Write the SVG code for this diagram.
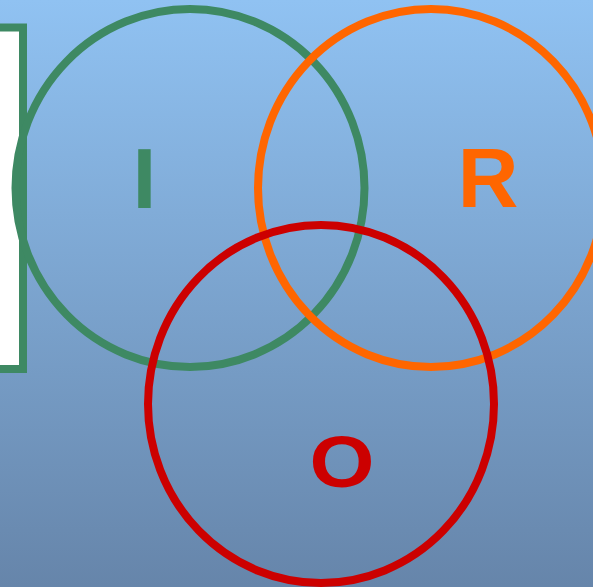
<svg xmlns="http://www.w3.org/2000/svg" width="593" height="587" viewBox="0 0 593 587">
  <defs>
    <linearGradient id="bg" x1="0" y1="0" x2="0" y2="1">
      <stop offset="0" stop-color="#90c2f2"/>
      <stop offset="1" stop-color="#6685aa"/>
    </linearGradient>
  </defs>
  <style>
    .ring { fill: none; stroke-width: 8; }
    .lbl { font-family: "Liberation Sans", Arial, sans-serif; font-weight: bold; text-anchor: middle; }
  </style>
  <rect x="0" y="0" width="593" height="587" fill="url(#bg)"/>
  <g id="box">
    <rect x="-100" y="27.5" width="123" height="341.5" fill="#ffffff" stroke="#3e8963" stroke-width="8"/>
  </g>
  <g id="circle-I">
    <ellipse class="ring" cx="190" cy="188" rx="174.5" ry="179" stroke="#3e8963"/>
    <text class="lbl" x="144.5" y="208" font-size="86" fill="#3e8963">I</text>
  </g>
  <g id="circle-R">
    <ellipse class="ring" cx="431" cy="188" rx="173" ry="179" stroke="#ff6600"/>
    <text class="lbl" x="488" y="207" font-size="84" fill="#ff6600">R</text>
  </g>
  <g id="circle-O">
    <ellipse class="ring" cx="321" cy="404" rx="173" ry="179" stroke="#cc0000"/>
    <text class="lbl" transform="translate(342,487) scale(1.16,1)" x="0" y="0" font-size="72" fill="#cc0000">O</text>
  </g>
  <g id="connectors"></g>
</svg>
